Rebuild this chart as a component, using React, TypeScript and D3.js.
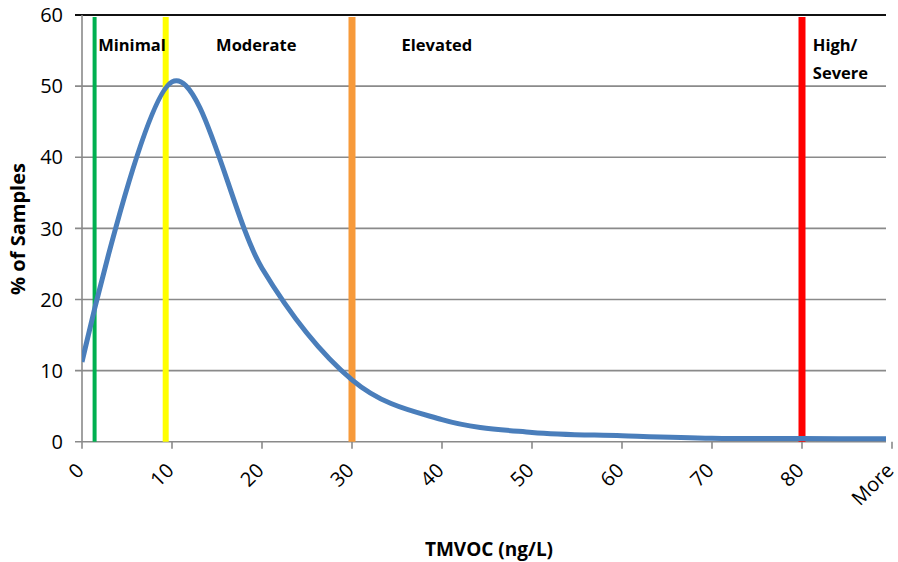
import React from 'react';
import * as d3 from 'd3';

// category axis of the histogram
const categories = ['0', '10', '20', '30', '40', '50', '60', '70', '80', 'More'];
const percentSamples = [11.2, 50.6, 24.4, 8.7, 3.1, 1.3, 0.85, 0.5, 0.45, 0.4];
const yTicks = [0, 10, 20, 30, 40, 50, 60];

// threshold markers (in ng/L)
const thresholdValues = [1.4, 9.3, 30, 80];
const thresholdColors = ['#00b050', '#ffff00', '#f79a3a', '#ff0000'];
const thresholdWidths = [4, 6, 7, 7];

const bandLabels = ['Minimal', 'Moderate', 'Elevated', 'High/|Severe'];
const bandLabelAt = [1.8, 14.9, 35.5, 81.2];

const W = 898;
const H = 562;
const left = 82;
const right = 886;
const top = 15;
const bottom = 441.7;

const App: React.FC = () => {
  const x = d3.scalePoint<string>().domain(categories).range([left, 892]);
  const xv = d3.scaleLinear().domain([0, 90]).range([left, 892]);
  const y = d3.scaleLinear().domain([0, 60]).range([bottom, top]);

  const line = d3
    .line<number>()
    .x((_, i) => x(categories[i]) as number)
    .y(d => y(d))
    .curve(d3.curveCardinal.tension(0));

  const font = '"Open Sans", sans-serif';

  return (
    <svg width={W} height={H} style={{ position: 'absolute', left: 0, top: 0, background: '#fff' }}>
      <defs>
        <clipPath id="plot">
          <rect x={left} y={top - 2} width={right - left} height={bottom - top + 4} />
        </clipPath>
      </defs>

      {/* gridlines */}
      {yTicks.map(t => (
        <g key={t}>
          <line
            x1={left - 7}
            x2={right}
            y1={y(t)}
            y2={y(t)}
            stroke={t === 60 ? '#111' : '#8a8a8a'}
            strokeWidth={t === 60 ? 2 : 1.6}
          />
          <text
            x={63}
            y={y(t)}
            dy="0.36em"
            textAnchor="end"
            fontFamily={font}
            fontSize={20}
            fill="#000"
          >
            {t}
          </text>
        </g>
      ))}
      <line x1={left} x2={left} y1={top} y2={bottom} stroke="#8a8a8a" strokeWidth={1.6} />

      {/* x ticks */}
      {categories.map(c => (
        <g key={c}>
          <line x1={x(c)} x2={x(c)} y1={bottom} y2={bottom + 7} stroke="#8a8a8a" strokeWidth={1.6} />
          <text
            transform={`translate(${(x(c) as number) + 3},${bottom + 30}) rotate(-45)`}
            textAnchor="end"
            fontFamily={font}
            fontSize={20}
            fill="#000"
          >
            {c}
          </text>
        </g>
      ))}

      {/* thresholds */}
      {thresholdValues.map((v, i) => (
        <line
          key={v}
          x1={xv(v)}
          x2={xv(v)}
          y1={17}
          y2={bottom}
          stroke={thresholdColors[i]}
          strokeWidth={thresholdWidths[i]}
        />
      ))}

      {/* distribution curve */}
      <path
        d={line(percentSamples) || ''}
        fill="none"
        stroke="#4a7ebb"
        strokeWidth={5}
        clipPath="url(#plot)"
      />

      {/* band labels */}
      {bandLabels.map((lab, i) =>
        lab.split('|').map((part, j) => (
          <text
            key={lab + j}
            x={xv(bandLabelAt[i])}
            y={51 + j * 28}
            fontFamily={font}
            fontWeight="bold"
            fontSize={16.5}
            fill="#000"
          >
            {part}
          </text>
        ))
      )}

      {/* axis titles */}
      <text
        transform={`translate(25,229) rotate(-90)`}
        textAnchor="middle"
        fontFamily={font}
        fontWeight="bold"
        fontSize={20}
        fill="#000"
      >
        % of Samples
      </text>
      <text
        x={489}
        y={556}
        textAnchor="middle"
        fontFamily={font}
        fontWeight="bold"
        fontSize={19}
        fill="#000"
      >
        TMVOC (ng/L)
      </text>
    </svg>
  );
};

export default App;
